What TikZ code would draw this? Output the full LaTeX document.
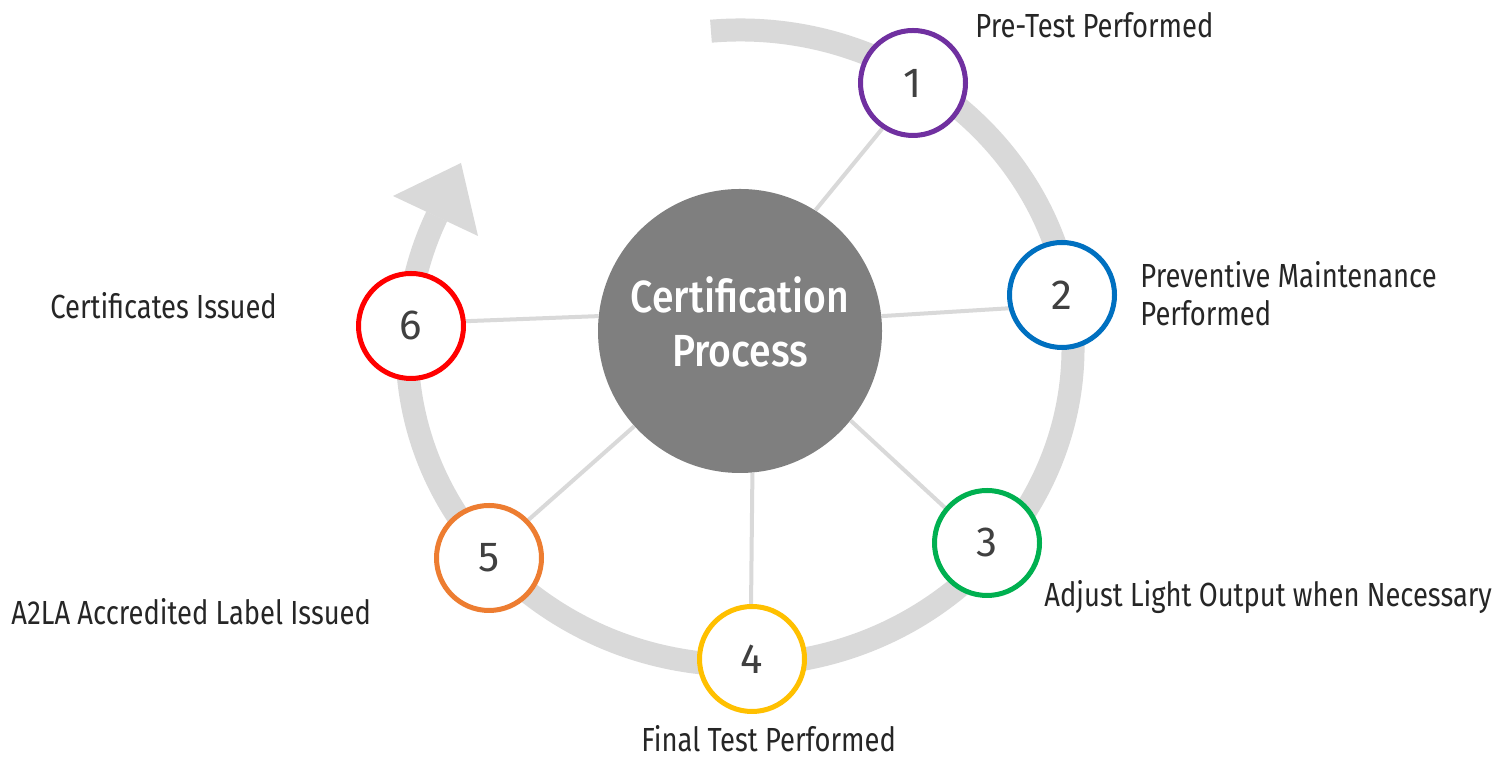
\documentclass[tikz,border=0pt]{standalone}
\usepackage{fontspec}
\setmainfont{Fira Sans}
\newfontfamily\lblfont[FakeStretch=0.82]{Fira Sans}
\newfontfamily\ctrfont[FakeStretch=0.87]{Fira Sans Medium}
\newfontfamily\digitfont{Fira Sans}
\usetikzlibrary{backgrounds}
\definecolor{ringgray}{HTML}{D9D9D9}
\definecolor{centergray}{HTML}{7F7F7F}
\definecolor{digitgray}{HTML}{404040}
\definecolor{lbltext}{HTML}{262626}
\definecolor{cpurple}{HTML}{7030A0}
\definecolor{cblue}{HTML}{0070C0}
\definecolor{cgreen}{HTML}{00B050}
\definecolor{cgold}{HTML}{FFC000}
\definecolor{corange}{HTML}{ED7D31}
\definecolor{cred}{HTML}{FF0000}
\begin{document}
\begin{tikzpicture}[x=0.5pt,y=0.5pt,
  stepcirc/.style={circle, draw, line width=2.5pt, fill=white, minimum size=52.5pt,
    inner sep=0pt, text=digitgray, font=\digitfont\fontsize{21}{25}\selectfont},
  lbl/.style={anchor=base west, inner sep=0pt, text=lbltext,
    font=\lblfont\fontsize{16.7}{20}\selectfont},
  spoke/.style={draw=ringgray, line width=2pt},
  ring/.style={draw=ringgray, line width=11.5pt},
  hub/.style={circle, fill=centergray, minimum size=142pt, inner sep=0pt},
  ctxt/.style={anchor=base, inner sep=0pt, text=white,
    font=\ctrfont\fontsize{22.5}{27}\selectfont}
]
\useasboundingbox (0,0) rectangle (1503,758);

% hub and steps
\node[hub] (cc) at (740,427) {};
\node[ctxt] (t1) at (740,445) {Certification};
\node[ctxt] (t2) at (740,391) {Process};

\node[stepcirc, draw=cpurple] (n1) at (913,675) {1};
\node[stepcirc, draw=cblue]   (n2) at (1062,463) {2};
\node[stepcirc, draw=cgreen]  (n3) at (987,215) {3};
\node[stepcirc, draw=cgold]   (n4) at (752,99) {4};
\node[stepcirc, draw=corange] (n5) at (489,200) {5};
\node[stepcirc, draw=cred]    (n6) at (411,432) {6};

% labels
\node[lbl] (l1) at (975,720) {Pre-Test Performed};
\node[lbl] (l2a) at (1140,470) {Preventive Maintenance};
\node[lbl] (l2b) at (1140,432) {Performed};
\node[lbl] (l3) at (1044,151) {Adjust Light Output when Necessary};
\node[lbl] (l4) at (641,6) {Final Test Performed};
\node[lbl] (l5) at (11,133) {A2LA Accredited Label Issued};
\node[lbl] (l6) at (50,439) {Certificates Issued};

\begin{scope}[on background layer]
  \fill[white] (0,0) rectangle (1503,758);
  \coordinate (rs) at ({740+333*cos(95)},{410.5+317.5*sin(95)});
  \draw[ring] (rs) arc[start angle=95, end angle=-204.4, x radius=166.5pt, y radius=158.75pt];
  \coordinate (tip) at (461,595);
  \coordinate (wa) at (393,562);
  \coordinate (wb) at (478,522);
  \fill[ringgray] (tip) -- (wa) -- (wb) -- cycle;
  \draw[spoke] (n1.236) -- (cc.58);
  \draw[spoke] (n2.194) -- (cc.6);
  \draw[spoke] (n3.140) -- (cc.-39);
  \draw[spoke] (n4.91) -- (cc.-85.5);
  \draw[spoke] (n5.44) -- (cc.222);
  \draw[spoke] (n6.5) -- (cc.174);
\end{scope}
\end{tikzpicture}
\end{document}
